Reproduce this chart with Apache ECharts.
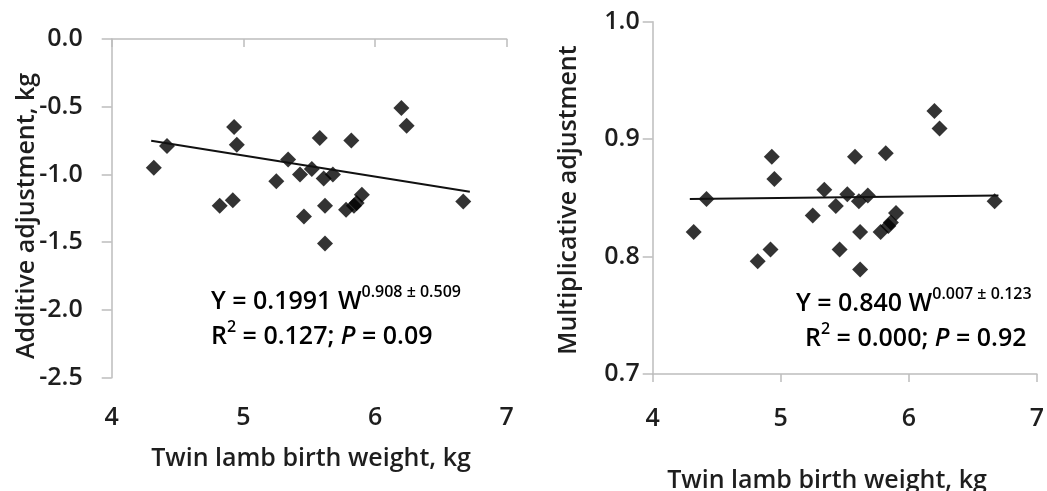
<!DOCTYPE html>
<html>
<head>
<meta charset="utf-8">
<script src="https://cdn.jsdelivr.net/npm/echarts@6/dist/echarts.min.js"></script>
<style>html,body{margin:0;padding:0;background:#fff}#c{width:1047px;height:491px}</style>
</head>
<body>
<div id="c"></div>
<script>
// Twin lamb birth weight (kg)
const weights = [4.32, 4.42, 4.82, 4.92, 4.93, 4.95, 5.25, 5.34, 5.43, 5.46, 5.52, 5.58, 5.61, 5.62, 5.62, 5.68, 5.78, 5.82, 5.84, 5.86, 5.90, 6.20, 6.24, 6.67];
// Additive adjustment (kg)
const additive = [-0.95, -0.79, -1.23, -1.19, -0.65, -0.78, -1.05, -0.89, -1.00, -1.31, -0.96, -0.73, -1.03, -1.23, -1.51, -1.00, -1.26, -0.75, -1.23, -1.21, -1.15, -0.51, -0.64, -1.20];
// Multiplicative adjustment
const multiplicative = [0.821, 0.849, 0.796, 0.806, 0.885, 0.866, 0.835, 0.857, 0.843, 0.806, 0.853, 0.885, 0.847, 0.821, 0.789, 0.852, 0.821, 0.888, 0.826, 0.829, 0.837, 0.924, 0.909, 0.847];
// Fitted lines
const trendXAdd = [4.30, 6.72];
const trendAdd = [-0.751, -1.128];
const trendXMul = [4.29, 6.70];
const trendMul = [0.849, 0.852];

const xTitle = 'Twin lamb birth weight, kg';
const yTitleAdd = 'Additive adjustment, kg';
const yTitleMul = 'Multiplicative adjustment';

const FONT = '"Open Sans"';
const FW = 600;
const FS = 25;
const TXT = '#1e1e1e';
const AXC = '#bdbdbd';

const pts = (xs, ys) => xs.map((x, i) => [x, ys[i]]);

function xAxis(gi, margin) {
  return {
    type: 'value', gridIndex: gi, min: 4, max: 7, interval: 1,
    axisLine: { show: true, lineStyle: { color: AXC, width: 1.5 } },
    axisTick: { show: true, length: 8, lineStyle: { color: AXC, width: 1.5 } },
    splitLine: { show: false },
    axisLabel: { color: TXT, fontSize: FS, fontWeight: FW, fontFamily: FONT, margin: margin }
  };
}
function yAxis(gi, min, max, interval, margin) {
  return {
    type: 'value', gridIndex: gi, min: min, max: max, interval: interval,
    axisLine: { show: true, onZero: false, lineStyle: { color: AXC, width: 1.5 } },
    axisTick: { show: true, length: 10, lineStyle: { color: AXC, width: 1.5 } },
    splitLine: { show: false },
    axisLabel: { color: TXT, fontSize: FS, fontWeight: FW, fontFamily: FONT, margin: margin,
      formatter: v => v.toFixed(1) }
  };
}

const chart = echarts.init(document.getElementById('c'), null, { renderer: 'canvas' });

const rich = {
  m: { fontSize: 25, fontWeight: FW, fontFamily: FONT, color: TXT, lineHeight: 30, verticalAlign: 'bottom' },
  i: { fontSize: 25, fontWeight: FW, fontFamily: FONT, fontStyle: 'italic', color: TXT, lineHeight: 30, verticalAlign: 'bottom' },
  s: { fontSize: 16, fontWeight: FW, fontFamily: FONT, color: TXT, lineHeight: 30, verticalAlign: 'top' }
};
const F = FW + ' ' + FS + 'px ' + FONT;

chart.setOption({
  animation: false,
  backgroundColor: '#fff',
  grid: [
    { left: 111.7, top: 39, width: 395, height: 338.7 },
    { left: 652.7, top: 21.7, width: 389.6, height: 352.3 }
  ],
  xAxis: [xAxis(0, 28), xAxis(1, 32)],
  yAxis: [yAxis(0, -2.5, 0, 0.5, 29), yAxis(1, 0.7, 1.0, 0.1, 13)],
  series: [
    { type: 'scatter', xAxisIndex: 0, yAxisIndex: 0, symbol: 'diamond', symbolSize: 16,
      itemStyle: { color: '#000' }, data: pts(weights, additive) },
    { type: 'line', xAxisIndex: 0, yAxisIndex: 0, showSymbol: false, symbol: 'none',
      lineStyle: { color: '#111', width: 2 }, data: pts(trendXAdd, trendAdd) },
    { type: 'scatter', xAxisIndex: 1, yAxisIndex: 1, symbol: 'diamond', symbolSize: 16,
      itemStyle: { color: '#000' }, data: pts(weights, multiplicative) },
    { type: 'line', xAxisIndex: 1, yAxisIndex: 1, showSymbol: false, symbol: 'none',
      lineStyle: { color: '#111', width: 2 }, data: pts(trendXMul, trendMul) }
  ],
  graphic: [
    { type: 'text', x: 311, y: 459, style: { text: xTitle, font: F, fill: TXT, align: 'center', verticalAlign: 'middle' } },
    { type: 'text', x: 827, y: 481, style: { text: xTitle, font: F, fill: TXT, align: 'center', verticalAlign: 'middle' } },
    { type: 'text', x: 27, y: 216, rotation: Math.PI / 2, style: { text: yTitleAdd, font: F, fill: TXT, align: 'center', verticalAlign: 'middle' } },
    { type: 'text', x: 569, y: 200, rotation: Math.PI / 2, style: { text: yTitleMul, font: F, fill: TXT, align: 'center', verticalAlign: 'middle' } },
    { type: 'text', x: 211, y: 284, style: { text: '{m|Y = 0.1991 W}{s|0.908 ± 0.509}', rich: rich } },
    { type: 'text', x: 211, y: 319, style: { text: '{m|R}{s|2}{m| = 0.127; }{i|P}{m| = 0.09}', rich: rich } },
    { type: 'text', x: 796, y: 286, style: { text: '{m|Y = 0.840 W}{s|0.007 ± 0.123}', rich: rich } },
    { type: 'text', x: 805, y: 321, style: { text: '{m|R}{s|2}{m| = 0.000; }{i|P}{m| = 0.92}', rich: rich } }
  ]
});
</script>
</body>
</html>
